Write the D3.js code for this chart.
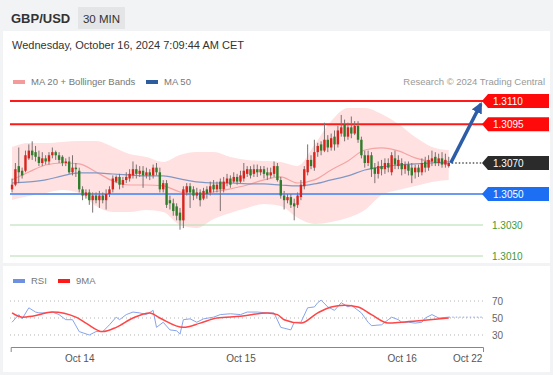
<!DOCTYPE html>
<html>
<head>
<meta charset="utf-8">
<script src="https://cdn.jsdelivr.net/npm/d3@7"></script>
<style>
  html, body { margin: 0; padding: 0; background: #f2f3f5; }
  svg { display: block; font-family: "Liberation Sans", Arial, sans-serif; }
</style>
</head>
<body>
<div id="chart"></div>
<script>
// GBP/USD 30 min candles: [open, high, low, close]
const candles = [
  [1.3053,1.3060,1.3051,1.3056],[1.3056,1.3070,1.3055,1.3066],[1.3068,1.3080,1.3057,1.3064],[1.3065,1.3067,1.3060,1.3062],
  [1.3065,1.3078,1.3064,1.3075],[1.3073,1.3082,1.3072,1.3078],[1.3078,1.3084,1.3072,1.3075],[1.3077,1.3081,1.3071,1.3074],
  [1.3074,1.3078,1.3068,1.3070],[1.3070,1.3077,1.3068,1.3073],[1.3073,1.3075,1.3069,1.3071],[1.3071,1.3077,1.3069,1.3075],
  [1.3075,1.3080,1.3073,1.3077],[1.3077,1.3078,1.3072,1.3075],[1.3075,1.3077,1.3070,1.3072],[1.3074,1.3075,1.3068,1.3070],
  [1.3070,1.3073,1.3068,1.3071],[1.3071,1.3074,1.3063,1.3064],[1.3064,1.3075,1.3062,1.3067],[1.3067,1.3070,1.3061,1.3066],
  [1.3065,1.3067,1.3051,1.3053],[1.3053,1.3055,1.3046,1.3049],[1.3049,1.3053,1.3047,1.3051],[1.3051,1.3053,1.3043,1.3046],
  [1.3046,1.3051,1.3038,1.3049],[1.3049,1.3051,1.3044,1.3046],[1.3046,1.3052,1.3041,1.3049],[1.3049,1.3051,1.3044,1.3046],
  [1.3046,1.3053,1.3040,1.3050],[1.3050,1.3055,1.3048,1.3053],[1.3053,1.3062,1.3051,1.3060],[1.3058,1.3062,1.3057,1.3061],
  [1.3061,1.3063,1.3053,1.3056],[1.3056,1.3061,1.3054,1.3059],[1.3059,1.3064,1.3057,1.3061],[1.3060,1.3066,1.3058,1.3063],
  [1.3062,1.3071,1.3060,1.3066],[1.3066,1.3069,1.3060,1.3063],[1.3063,1.3068,1.3061,1.3065],[1.3065,1.3068,1.3054,1.3062],
  [1.3062,1.3067,1.3060,1.3064],[1.3064,1.3066,1.3059,1.3062],[1.3062,1.3069,1.3060,1.3067],[1.3067,1.3070,1.3062,1.3064],
  [1.3064,1.3067,1.3051,1.3053],[1.3053,1.3059,1.3051,1.3057],[1.3057,1.3059,1.3041,1.3043],[1.3046,1.3049,1.3040,1.3044],
  [1.3044,1.3047,1.3036,1.3039],[1.3042,1.3044,1.3033,1.3036],[1.3038,1.3041,1.3027,1.3033],[1.3033,1.3055,1.3028,1.3053],
  [1.3051,1.3057,1.3049,1.3055],[1.3055,1.3057,1.3041,1.3051],[1.3053,1.3055,1.3046,1.3049],[1.3049,1.3054,1.3047,1.3051],
  [1.3051,1.3053,1.3042,1.3046],[1.3047,1.3054,1.3046,1.3052],[1.3053,1.3055,1.3047,1.3050],[1.3051,1.3058,1.3049,1.3055],
  [1.3056,1.3059,1.3051,1.3053],[1.3053,1.3058,1.3051,1.3056],[1.3058,1.3060,1.3039,1.3053],[1.3053,1.3061,1.3051,1.3058],
  [1.3057,1.3063,1.3055,1.3060],[1.3060,1.3062,1.3054,1.3056],[1.3058,1.3064,1.3057,1.3061],[1.3061,1.3063,1.3056,1.3058],
  [1.3058,1.3065,1.3057,1.3062],[1.3060,1.3070,1.3058,1.3065],[1.3063,1.3068,1.3061,1.3066],[1.3066,1.3068,1.3060,1.3062],
  [1.3063,1.3069,1.3061,1.3066],[1.3066,1.3069,1.3061,1.3064],[1.3064,1.3068,1.3062,1.3066],[1.3066,1.3068,1.3060,1.3063],
  [1.3064,1.3067,1.3059,1.3062],[1.3062,1.3067,1.3060,1.3064],[1.3063,1.3071,1.3061,1.3068],[1.3068,1.3070,1.3058,1.3059],
  [1.3059,1.3061,1.3047,1.3049],[1.3049,1.3052,1.3040,1.3046],[1.3046,1.3050,1.3044,1.3048],[1.3048,1.3050,1.3041,1.3043],
  [1.3044,1.3047,1.3033,1.3042],[1.3043,1.3051,1.3041,1.3049],[1.3048,1.3059,1.3046,1.3056],[1.3055,1.3068,1.3053,1.3066],
  [1.3064,1.3082,1.3062,1.3072],[1.3072,1.3075,1.3066,1.3068],[1.3067,1.3085,1.3065,1.3077],[1.3077,1.3083,1.3074,1.3081],
  [1.3082,1.3084,1.3075,1.3078],[1.3078,1.3096,1.3077,1.3085],[1.3085,1.3088,1.3077,1.3080],[1.3080,1.3089,1.3078,1.3086],
  [1.3087,1.3091,1.3078,1.3082],[1.3082,1.3094,1.3080,1.3091],[1.3089,1.3101,1.3087,1.3093],[1.3095,1.3098,1.3084,1.3087],
  [1.3087,1.3096,1.3085,1.3093],[1.3093,1.3100,1.3086,1.3089],[1.3089,1.3097,1.3088,1.3094],[1.3094,1.3097,1.3083,1.3085],
  [1.3085,1.3087,1.3073,1.3075],[1.3075,1.3078,1.3067,1.3070],[1.3070,1.3078,1.3068,1.3075],[1.3075,1.3077,1.3061,1.3066],
  [1.3067,1.3070,1.3057,1.3063],[1.3063,1.3071,1.3060,1.3068],[1.3068,1.3072,1.3062,1.3066],[1.3066,1.3073,1.3063,1.3070],
  [1.3070,1.3073,1.3064,1.3067],[1.3064,1.3077,1.3062,1.3075],[1.3073,1.3078,1.3066,1.3069],[1.3068,1.3075,1.3066,1.3072],
  [1.3070,1.3073,1.3062,1.3066],[1.3066,1.3071,1.3063,1.3069],[1.3069,1.3071,1.3062,1.3065],[1.3067,1.3070,1.3057,1.3062],
  [1.3064,1.3069,1.3060,1.3067],[1.3067,1.3069,1.3061,1.3064],[1.3064,1.3073,1.3062,1.3070],[1.3071,1.3074,1.3064,1.3067],
  [1.3067,1.3075,1.3065,1.3072],[1.3071,1.3078,1.3068,1.3073],[1.3074,1.3077,1.3068,1.3070],[1.3070,1.3076,1.3068,1.3073],
  [1.3073,1.3077,1.3067,1.3069],[1.3069,1.3076,1.3067,1.3072],[1.3068,1.3074,1.3067,1.3070]
];

// indicator readings, one every 5 candles
const bandIndex = [0,5,10,15,20,25,30,35,40,45,50,55,60,65,70,75,80,85,90,95,100,105,110,115,120,125,130];
const ma20 = [1.30591,1.30642,1.30687,1.30700,1.30694,1.30642,1.30584,1.30558,1.30558,1.30552,1.30513,1.30500,1.30513,1.30533,
  1.30558,1.30591,1.30610,1.30571,1.30591,1.30655,1.30713,1.30784,1.30797,1.30778,1.30733,1.30707,1.30694];
const bbUpper = [1.30804,1.30829,1.30829,1.30836,1.30842,1.30842,1.30804,1.30758,1.30739,1.30707,1.30752,1.30771,1.30771,1.30739,
  1.30720,1.30713,1.30707,1.30681,1.30816,1.30971,1.31055,1.31055,1.31016,1.30952,1.30868,1.30804,1.30784];
const bbLower = [1.30462,1.30487,1.30507,1.30526,1.30507,1.30423,1.30384,1.30384,1.30397,1.30384,1.30300,1.30281,1.30339,1.30378,
  1.30410,1.30436,1.30423,1.30346,1.30307,1.30320,1.30346,1.30397,1.30494,1.30526,1.30552,1.30578,1.30591];
const ma50 = [1.30571,1.30578,1.30591,1.30617,1.30636,1.30636,1.30629,1.30623,1.30617,1.30617,1.30597,1.30578,1.30571,1.30571,
  1.30565,1.30565,1.30558,1.30552,1.30565,1.30591,1.30617,1.30655,1.30675,1.30687,1.30694,1.30700,1.30707];

// RSI and its 9 period average
const rsiIndex = [0,2,3,5,7,8,10,12,14,16,18,20,23,25,27,29,31,32,34,36,38,40,42,43,45,47,49,50,51,53,55,57,60,62,65,68,70,73,76,78,
  80,81,83,84,86,88,90,91,92,94,96,98,100,101,104,106,107,110,112,113,115,116,118,120,122,123,125,127,130];
const rsiValues = [45,54,49,62,57,56,56,57,54,48,48,34,30,34,34,42,51,48,54,57,56,54,59,39,45,36,35,31,48,49,45,49,51,54,55,54,57,57,56,56,
  39,38,36,45,45,62,63,68,71,63,59,68,63,65,56,45,41,42,48,51,48,45,45,44,45,50,54,50,51];
const rsiMaIndex = [0,3,6,12,19,22,27,31,36,41,44,51,56,61,68,76,79,81,86,91,95,99,103,107,112,116,122,130];
const rsiMaValues = [56,51,52,57,51,44,34,39,50,56,50,39,44,50,52,56,54,48,44,56,63,65,63,54,44,45,47,50];

// key levels (resistances / current / supports) and the forecast target
const resistances = [1.3110, 1.3095];
const lastPrice = 1.3070;
const pivot = 1.3050;
const supports = [1.3030, 1.3010];
const target = 1.3110;
const targetIndex = 140;

// time axis
const tickIndex = [20, 68, 116, 135.5];
const tickLabels = ["Oct 14", "Oct 15", "Oct 16", "Oct 22"];
const rsiTicks = [70, 50, 30];

const W = 553, H = 375;
const svg = d3.select("#chart").append("svg").attr("width", W).attr("height", H);

// panels
svg.append("rect").attr("width", W).attr("height", H).attr("fill", "#f2f3f5");
svg.append("rect").attr("x", 3).attr("y", 31).attr("width", 547).attr("height", 232).attr("fill", "#fff");
svg.append("rect").attr("x", 3).attr("y", 266).attr("width", 547).attr("height", 106).attr("fill", "#fff");

// header
svg.append("text").attr("x", 11).attr("y", 23).attr("font-size", 13).attr("font-weight", "bold")
  .attr("fill", "#333").text("GBP/USD");
svg.append("rect").attr("x", 78).attr("y", 7).attr("width", 47).attr("height", 22).attr("fill", "#e4e5e7");
svg.append("text").attr("x", 101.5).attr("y", 22.5).attr("text-anchor", "middle").attr("font-size", 11.5)
  .attr("fill", "#333").text("30 MIN");
svg.append("text").attr("x", 12).attr("y", 49).attr("font-size", 11).attr("fill", "#333")
  .text("Wednesday, October 16, 2024 7:09:44 AM CET");

// scales
const x = d3.scaleLinear().domain([-0.4, 140.2]).range([10.7, 483]);
const y = d3.scaleLinear().domain([1.3010, 1.3110]).range([256, 101]);
const yr = d3.scaleLinear().domain([30, 70]).range([335, 301]);

// legend
svg.append("rect").attr("x", 13).attr("y", 80).attr("width", 12).attr("height", 4).attr("fill", "#f59a9a");
svg.append("text").attr("x", 31).attr("y", 85).attr("font-size", 9.5).attr("fill", "#777").text("MA 20 + Bollinger Bands");
svg.append("rect").attr("x", 146).attr("y", 80).attr("width", 12).attr("height", 4).attr("fill", "#2e5d9f");
svg.append("text").attr("x", 164).attr("y", 85).attr("font-size", 9.5).attr("fill", "#777").text("MA 50");
svg.append("text").attr("x", 545).attr("y", 85).attr("text-anchor", "end").attr("font-size", 9.5)
  .attr("fill", "#999").text("Research \u00a9 2024 Trading Central");

// bollinger band
const band = d3.area()
  .x(i => x(bandIndex[i]))
  .y0(i => y(bbLower[i]))
  .y1(i => y(bbUpper[i]))
  .curve(d3.curveMonotoneX);
svg.append("path").datum(d3.range(bandIndex.length)).attr("d", band).attr("fill", "#ffe1e1");

// support lines
supports.forEach(v => {
  svg.append("line").attr("x1", 10).attr("x2", 483).attr("y1", y(v)).attr("y2", y(v))
    .attr("stroke", "#b3dcae").attr("stroke-width", 1);
  svg.append("text").attr("x", 492).attr("y", y(v) + 4).attr("font-size", 10).attr("fill", "#3f9a35")
    .text(v.toFixed(4));
});

// moving averages
const maLine = arr => d3.line()
  .x((d, i) => x(bandIndex[i]))
  .y(d => y(d))
  .curve(d3.curveMonotoneX)(arr);
svg.append("path").attr("d", maLine(ma20)).attr("fill", "none").attr("stroke", "#f5a3a3").attr("stroke-width", 1.2);
svg.append("path").attr("d", maLine(ma50)).attr("fill", "none").attr("stroke", "#8198c6").attr("stroke-width", 1.2);

// resistance and pivot lines
resistances.forEach(v => {
  svg.append("line").attr("x1", 10).attr("x2", 483).attr("y1", y(v)).attr("y2", y(v))
    .attr("stroke", "#ff1a1a").attr("stroke-width", 2);
});
svg.append("line").attr("x1", 10).attr("x2", 483).attr("y1", y(pivot)).attr("y2", y(pivot))
  .attr("stroke", "#6b9af0").attr("stroke-width", 2);

// candles
const g = svg.append("g");
g.selectAll(".wick").data(candles).join("line")
  .attr("x1", (d, i) => x(i)).attr("x2", (d, i) => x(i))
  .attr("y1", d => y(d[1])).attr("y2", d => y(d[2]))
  .attr("stroke", "#7d7070").attr("stroke-width", 1);
g.selectAll(".body").data(candles).join("rect")
  .attr("x", (d, i) => x(i) - 1.2)
  .attr("width", 2.4)
  .attr("y", d => y(Math.max(d[0], d[3])))
  .attr("height", d => Math.max(1, Math.abs(y(d[0]) - y(d[3]))))
  .attr("fill", d => d[3] >= d[0] ? "#d9231d" : "#2f7d2a");

// dotted line from last price to its label
const lastX = x(candles.length - 1);
svg.append("line").attr("x1", lastX + 3).attr("x2", 483).attr("y1", y(lastPrice)).attr("y2", y(lastPrice))
  .attr("stroke", "#555").attr("stroke-width", 1.5).attr("stroke-dasharray", "1.5,2");

// forecast arrow
svg.append("defs").append("marker")
  .attr("id", "head").attr("viewBox", "0 0 10 10").attr("refX", 8).attr("refY", 5)
  .attr("markerWidth", 3.2).attr("markerHeight", 3.2).attr("orient", "auto")
  .append("path").attr("d", "M0,0L10,5L0,10z").attr("fill", "#2c5da6");
svg.append("line")
  .attr("x1", lastX + 2).attr("y1", y(lastPrice))
  .attr("x2", x(targetIndex) - 1.5).attr("y2", y(target) + 3)
  .attr("stroke", "#2c5da6").attr("stroke-width", 3.5).attr("marker-end", "url(#head)");

// price tags
function tag(v, fill) {
  const cy = y(v);
  svg.append("path")
    .attr("d", `M482,${cy}L488,${cy - 7}L549,${cy - 7}L549,${cy + 7}L488,${cy + 7}Z`)
    .attr("fill", fill);
  svg.append("text").attr("x", 493).attr("y", cy + 3.8).attr("font-size", 10).attr("fill", "#fff")
    .text(v.toFixed(4));
}
resistances.forEach(v => tag(v, "#ff0a0a"));
tag(lastPrice, "#2b2b2b");
tag(pivot, "#1c6ff2");

// RSI panel
svg.append("rect").attr("x", 13).attr("y", 279).attr("width", 12).attr("height", 4).attr("fill", "#6f8fe0");
svg.append("text").attr("x", 31).attr("y", 284).attr("font-size", 9.5).attr("fill", "#777").text("RSI");
svg.append("rect").attr("x", 58).attr("y", 279).attr("width", 12).attr("height", 4).attr("fill", "#ff1a1a");
svg.append("text").attr("x", 76).attr("y", 284).attr("font-size", 9.5).attr("fill", "#777").text("9MA");

rsiTicks.forEach(v => {
  svg.append("line").attr("x1", 10).attr("x2", 483).attr("y1", yr(v)).attr("y2", yr(v))
    .attr("stroke", "#b5b5b5").attr("stroke-dasharray", "1,3");
  svg.append("text").attr("x", 492).attr("y", yr(v) + 3.5).attr("font-size", 10).attr("fill", "#666").text(v);
});

svg.append("path")
  .attr("d", d3.line().x((d, i) => x(rsiIndex[i])).y(d => yr(d))(rsiValues))
  .attr("fill", "none").attr("stroke", "#87a4ec").attr("stroke-width", 1);
svg.append("line")
  .attr("x1", x(rsiIndex[rsiIndex.length - 1])).attr("x2", 483)
  .attr("y1", yr(rsiValues[rsiValues.length - 1])).attr("y2", yr(rsiValues[rsiValues.length - 1]))
  .attr("stroke", "#87a4ec").attr("stroke-dasharray", "1.5,2");
svg.append("path")
  .attr("d", d3.line().x((d, i) => x(rsiMaIndex[i])).y(d => yr(d)).curve(d3.curveMonotoneX)(rsiMaValues))
  .attr("fill", "none").attr("stroke", "#ff4545").attr("stroke-width", 1.5);

// time axis
const axis = svg.append("g").attr("transform", "translate(0,347)")
  .call(d3.axisBottom(x).tickValues(tickIndex).tickFormat((d, i) => tickLabels[i])
    .tickSizeInner(0).tickSizeOuter(5).tickPadding(8));
axis.select(".domain").attr("stroke", "#888");
axis.selectAll("text").attr("font-size", 10).attr("fill", "#555")
  .attr("font-family", "Liberation Sans, Arial, sans-serif");
</script>
</body>
</html>
